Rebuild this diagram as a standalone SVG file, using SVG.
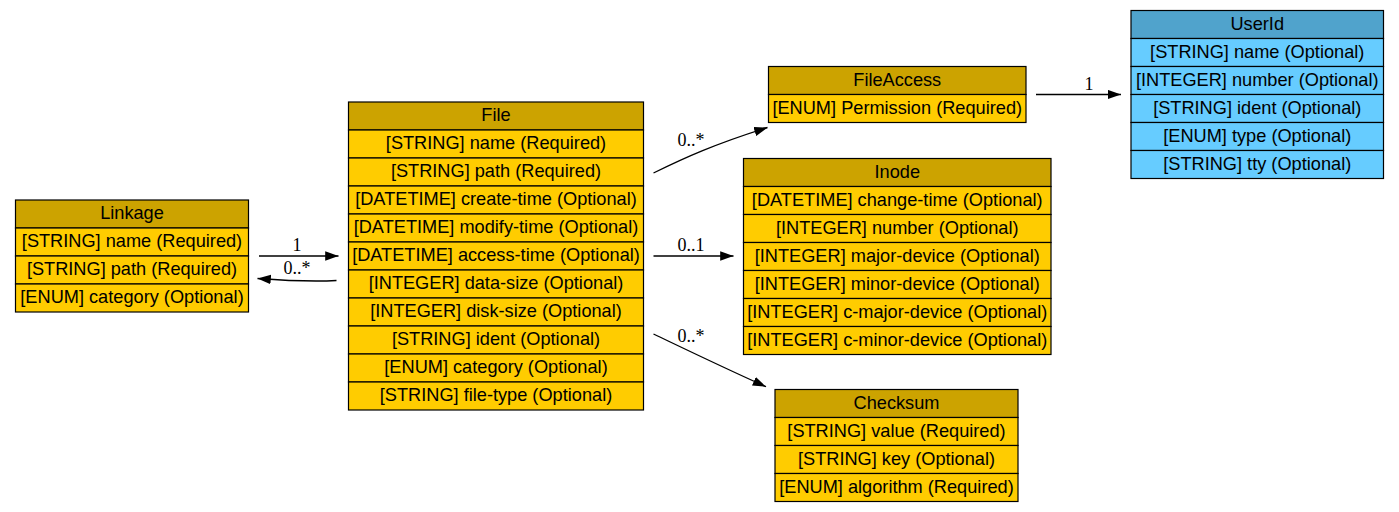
<svg xmlns="http://www.w3.org/2000/svg" width="1399" height="512" viewBox="0 0 1399 512">
<style>
.h{fill:#cca300;stroke:#000;stroke-width:1.2}
.r{fill:#ffcc00;stroke:#000;stroke-width:1.2}
.hb{fill:#50a3cc;stroke:#000;stroke-width:1.2}
.rb{fill:#66ccff;stroke:#000;stroke-width:1.2}
text{font-family:"Liberation Sans",Arial,sans-serif;font-size:18.2px;fill:#000;text-anchor:middle}
text.l{font-family:"Liberation Serif","Times New Roman",serif;font-size:18px}
.e{fill:none;stroke:#000;stroke-width:1.33}
</style>
<defs>
<marker id="a" markerUnits="userSpaceOnUse" markerWidth="14" markerHeight="10" refX="13.3" refY="4.7" orient="auto">
<path d="M0,0 L13.3,4.7 L0,9.4 z" fill="#000"/>
</marker>
</defs>
<rect width="1399" height="512" fill="#fff"/>
<g id="connectors">
<path class="e" d="M259,256 L338.5,256" marker-end="url(#a)"/>
<text class="l" x="297" y="251">1</text>
<path class="e" d="M336.5,280.5 C318,281.5 298,281.5 257.5,278.5" marker-end="url(#a)"/>
<text class="l" x="297" y="273.5">0..*</text>
<path class="e" d="M653.5,173 C685,157.5 715,144 767.5,127.5" marker-end="url(#a)"/>
<text class="l" x="691" y="145.7">0..*</text>
<path class="e" d="M653.5,256 L733.5,256" marker-end="url(#a)"/>
<text class="l" x="691" y="250.7">0..1</text>
<path class="e" d="M653.5,334 C685,349 720,366 766,386.7" marker-end="url(#a)"/>
<text class="l" x="691" y="341.7">0..*</text>
<path class="e" d="M1036,94.5 L1121,94.5" marker-end="url(#a)"/>
<text class="l" x="1089" y="90">1</text>
</g>
<g id="Linkage">
<rect class="h" x="15.5" y="200" width="233" height="28"/>
<rect class="r" x="15.5" y="228" width="233" height="28"/>
<rect class="r" x="15.5" y="256" width="233" height="28"/>
<rect class="r" x="15.5" y="284" width="233" height="28"/>
<text x="132" y="219">Linkage</text>
<text x="132" y="247">[STRING] name (Required)</text>
<text x="132" y="275">[STRING] path (Required)</text>
<text x="132" y="303">[ENUM] category (Optional)</text>
</g>
<g id="File">
<rect class="h" x="348.5" y="102" width="295" height="28"/>
<rect class="r" x="348.5" y="130" width="295" height="28"/>
<rect class="r" x="348.5" y="158" width="295" height="28"/>
<rect class="r" x="348.5" y="186" width="295" height="28"/>
<rect class="r" x="348.5" y="214" width="295" height="28"/>
<rect class="r" x="348.5" y="242" width="295" height="28"/>
<rect class="r" x="348.5" y="270" width="295" height="28"/>
<rect class="r" x="348.5" y="298" width="295" height="28"/>
<rect class="r" x="348.5" y="326" width="295" height="28"/>
<rect class="r" x="348.5" y="354" width="295" height="28"/>
<rect class="r" x="348.5" y="382" width="295" height="28"/>
<text x="496" y="121">File</text>
<text x="496" y="149">[STRING] name (Required)</text>
<text x="496" y="177">[STRING] path (Required)</text>
<text x="496" y="205">[DATETIME] create-time (Optional)</text>
<text x="496" y="233">[DATETIME] modify-time (Optional)</text>
<text x="496" y="261">[DATETIME] access-time (Optional)</text>
<text x="496" y="289">[INTEGER] data-size (Optional)</text>
<text x="496" y="317">[INTEGER] disk-size (Optional)</text>
<text x="496" y="345">[STRING] ident (Optional)</text>
<text x="496" y="373">[ENUM] category (Optional)</text>
<text x="496" y="401">[STRING] file-type (Optional)</text>
</g>
<g id="FileAccess">
<rect class="h" x="768.5" y="66.5" width="257.5" height="28"/>
<rect class="r" x="768.5" y="94.5" width="257.5" height="28"/>
<text x="897.25" y="85.5">FileAccess</text>
<text x="897.25" y="113.5">[ENUM] Permission (Required)</text>
</g>
<g id="Inode">
<rect class="h" x="743.5" y="158.5" width="307.5" height="28"/>
<rect class="r" x="743.5" y="186.5" width="307.5" height="28"/>
<rect class="r" x="743.5" y="214.5" width="307.5" height="28"/>
<rect class="r" x="743.5" y="242.5" width="307.5" height="28"/>
<rect class="r" x="743.5" y="270.5" width="307.5" height="28"/>
<rect class="r" x="743.5" y="298.5" width="307.5" height="28"/>
<rect class="r" x="743.5" y="326.5" width="307.5" height="28"/>
<text x="897.25" y="177.5">Inode</text>
<text x="897.25" y="205.5">[DATETIME] change-time (Optional)</text>
<text x="897.25" y="233.5">[INTEGER] number (Optional)</text>
<text x="897.25" y="261.5">[INTEGER] major-device (Optional)</text>
<text x="897.25" y="289.5">[INTEGER] minor-device (Optional)</text>
<text x="897.25" y="317.5">[INTEGER] c-major-device (Optional)</text>
<text x="897.25" y="345.5">[INTEGER] c-minor-device (Optional)</text>
</g>
<g id="Checksum">
<rect class="h" x="775" y="389.5" width="243" height="28"/>
<rect class="r" x="775" y="417.5" width="243" height="28"/>
<rect class="r" x="775" y="445.5" width="243" height="28"/>
<rect class="r" x="775" y="473.5" width="243" height="28"/>
<text x="896.5" y="408.5">Checksum</text>
<text x="896.5" y="436.5">[STRING] value (Required)</text>
<text x="896.5" y="464.5">[STRING] key (Optional)</text>
<text x="896.5" y="492.5">[ENUM] algorithm (Required)</text>
</g>
<g id="UserId">
<rect class="hb" x="1131" y="10.5" width="252.5" height="28"/>
<rect class="rb" x="1131" y="38.5" width="252.5" height="28"/>
<rect class="rb" x="1131" y="66.5" width="252.5" height="28"/>
<rect class="rb" x="1131" y="94.5" width="252.5" height="28"/>
<rect class="rb" x="1131" y="122.5" width="252.5" height="28"/>
<rect class="rb" x="1131" y="150.5" width="252.5" height="28"/>
<text x="1257.25" y="29.5">UserId</text>
<text x="1257.25" y="57.5">[STRING] name (Optional)</text>
<text x="1257.25" y="85.5">[INTEGER] number (Optional)</text>
<text x="1257.25" y="113.5">[STRING] ident (Optional)</text>
<text x="1257.25" y="141.5">[ENUM] type (Optional)</text>
<text x="1257.25" y="169.5">[STRING] tty (Optional)</text>
</g>
</svg>
